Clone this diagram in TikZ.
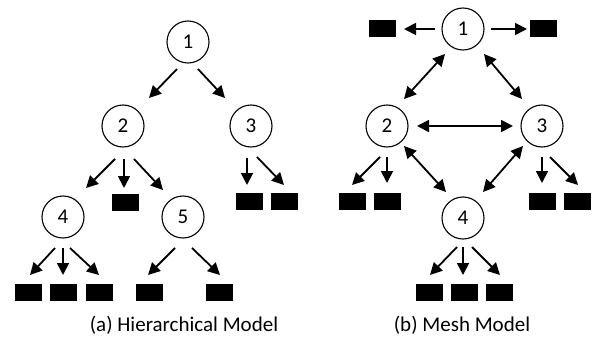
\documentclass[tikz,border=0pt]{standalone}
\usepackage{fontspec}
\setmainfont{Carlito}
\usetikzlibrary{arrows.meta}

\begin{document}
\begin{tikzpicture}[x=1pt,y=-1pt,>={Triangle[length=12pt,width=12pt]},
  peer/.style={circle,draw,line width=1.1pt,minimum size=42pt,inner sep=0pt,font=\fontsize{21}{25}\selectfont},
  blk/.style={fill=black,minimum width=27pt,minimum height=17pt,inner sep=0pt},
  link/.style={line width=1.8pt},
  subcap/.style={anchor=base,font=\fontsize{21}{25}\selectfont}]
 \useasboundingbox (0,0) rectangle (595,337);

 % (a) hierarchical
 \node[peer] (a1) at (188,42) {1};
 \node[peer] (a2) at (123,126) {2};
 \node[peer] (a3) at (251,126) {3};
 \node[peer] (a4) at (63,217) {4};
 \node[peer] (a5) at (183,217) {5};
 \node[blk] (a2x) at (125,202) {};
 \node[blk] (a3x) at (249,201) {};
 \node[blk] (a3y) at (284,201) {};
 \node[blk] (a4x) at (28,292) {};
 \node[blk] (a4y) at (63,292) {};
 \node[blk] (a4z) at (99,292) {};
 \node[blk] (a5x) at (149,292) {};
 \node[blk] (a5y) at (219,292) {};

 \draw[link,->] ([shift={(-11,27)}]a1.center) -- ([shift={(26,-28)}]a2.center);
 \draw[link,->] ([shift={(10,27)}]a1.center) -- ([shift={(-26,-28)}]a3.center);
 \draw[link,->] ([shift={(-8,33)}]a2.center) -- ([shift={(23,-29)}]a4.center);
 \draw[link,->] ([shift={(1,33)}]a2.center) -- ([shift={(-1,-14)}]a2x.center);
 \draw[link,->] ([shift={(11,33)}]a2.center) -- ([shift={(-20,-27)}]a5.center);
 \draw[link,->] ([shift={(-4,32)}]a3.center) -- ([shift={(-2,-16)}]a3x.center);
 \draw[link,->] ([shift={(6,31)}]a3.center) -- ([shift={(0,-16)}]a3y.center);
 \draw[link,->] ([shift={(-8,31)}]a4.center) -- ([shift={(2,-17)}]a4x.center);
 \draw[link,->] ([shift={(0,31)}]a4.center) -- ([shift={(0,-17)}]a4y.center);
 \draw[link,->] ([shift={(7,31)}]a4.center) -- ([shift={(0,-17)}]a4z.center);
 \draw[link,->] ([shift={(-8,31)}]a5.center) -- ([shift={(-1,-17)}]a5x.center);
 \draw[link,->] ([shift={(9,31)}]a5.center) -- ([shift={(1,-17)}]a5y.center);

 \node[subcap] (capa) at (184,331) {(a) Hierarchical Model};

 % (b) mesh
 \node[peer] (b1) at (463,29) {1};
 \node[peer] (b2) at (387,126) {2};
 \node[peer] (b3) at (542,126) {3};
 \node[peer] (b4) at (463,218) {4};
 \node[blk] (b1l) at (382,29) {};
 \node[blk] (b1r) at (543,29) {};
 \node[blk] (b2x) at (352,201) {};
 \node[blk] (b2y) at (387,201) {};
 \node[blk] (b3x) at (542,201) {};
 \node[blk] (b3y) at (577,201) {};
 \node[blk] (b4x) at (429,292) {};
 \node[blk] (b4y) at (464,292) {};
 \node[blk] (b4z) at (499,292) {};

 \draw[link,->] ([shift={(-28,0)}]b1.center) -- ([shift={(22,0)}]b1l.center);
 \draw[link,->] ([shift={(28,0)}]b1.center) -- ([shift={(-16,0)}]b1r.center);
 \draw[link,<->] ([shift={(-18,25)}]b1.center) -- ([shift={(17,-27)}]b2.center);
 \draw[link,<->] ([shift={(21,25)}]b1.center) -- ([shift={(-20,-27)}]b3.center);
 \draw[link,<->] ([shift={(30,0)}]b2.center) -- ([shift={(-29,0)}]b3.center);
 \draw[link,<->] ([shift={(17,20)}]b2.center) -- ([shift={(-17,-26)}]b4.center);
 \draw[link,<->] ([shift={(-19,20)}]b3.center) -- ([shift={(20,-26)}]b4.center);
 \draw[link,->] ([shift={(-7,31)}]b2.center) -- ([shift={(0,-16)}]b2x.center);
 \draw[link,->] ([shift={(0,31)}]b2.center) -- ([shift={(0,-18)}]b2y.center);
 \draw[link,->] ([shift={(0,31)}]b3.center) -- ([shift={(0,-18)}]b3x.center);
 \draw[link,->] ([shift={(8,31)}]b3.center) -- ([shift={(1,-16)}]b3y.center);
 \draw[link,->] ([shift={(-6,29)}]b4.center) -- ([shift={(1,-17)}]b4x.center);
 \draw[link,->] ([shift={(0,29)}]b4.center) -- ([shift={(-1,-17)}]b4y.center);
 \draw[link,->] ([shift={(9,29)}]b4.center) -- ([shift={(1,-17)}]b4z.center);

 \node[subcap] (capb) at (462,331) {(b) Mesh Model};
\end{tikzpicture}
\end{document}
